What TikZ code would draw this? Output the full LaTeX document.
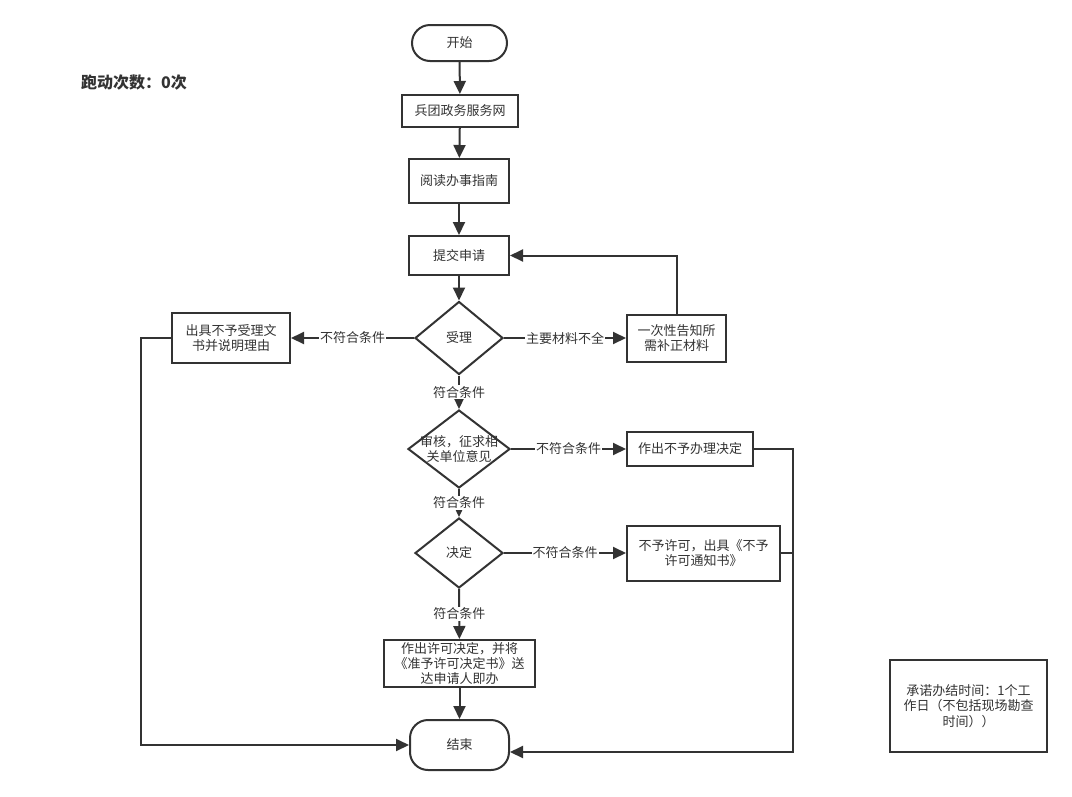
\documentclass[tikz,border=0pt]{standalone}
\usepackage{fontspec}
\setmainfont{Noto Sans CJK SC}
\usetikzlibrary{shapes.geometric,arrows.meta}
\definecolor{ln}{HTML}{333333}
\begin{document}
\begin{tikzpicture}[x=1pt,y=-1pt,
  every node/.style={font=\fontsize{13}{15.5}\selectfont, text=ln},
  box/.style={draw=ln, line width=2pt, inner sep=0pt},
  term/.style={draw=ln, line width=2pt, rounded corners=18pt, inner sep=0pt},
  dia/.style={draw=ln, line width=2pt, diamond, inner sep=0pt},
  arr/.style={draw=ln, line width=2pt, -{Triangle[length=13pt,width=12pt]}},
  line/.style={draw=ln, line width=2pt},
  lab/.style={fill=white, inner sep=1pt}
]
\useasboundingbox[fill=white] (0,0) rectangle (1072,796);

\node[term, minimum width=95pt, minimum height=36pt] (start) at (459.5,43) {开始};
\node[box, minimum width=116pt, minimum height=32pt] (web) at (460,111) {兵团政务服务网};
\node[box, minimum width=100pt, minimum height=44pt] (read) at (459,181) {阅读办事指南};
\node[box, minimum width=100pt, minimum height=39pt] (sub) at (459,255.5) {提交申请};
\node[dia, minimum width=88pt, minimum height=73pt] (acc) at (459,338) {};
\node (acct) at (acc) {受理};
\node[box, minimum width=118pt, minimum height=50pt, align=center] (rej) at (231,338) {出具不予受理文\\书并说明理由};
\node[box, minimum width=99pt, minimum height=47pt, align=center] (sup) at (676.5,338) {一次性告知所\\需补正材料};
\node[dia, minimum width=102pt, minimum height=78pt] (rev) at (459,449) {};
\node[align=center] (revt) at (rev) {审核，征求相\\关单位意见};
\node[box, minimum width=126pt, minimum height=34pt] (nodo) at (690,449) {作出不予办理决定};
\node[dia, minimum width=88pt, minimum height=70pt] (dec) at (459,553) {};
\node (dect) at (dec) {决定};
\node[box, minimum width=153pt, minimum height=55pt, align=center] (deny) at (703.5,553) {不予许可，出具《不予\\许可通知书》};
\node[box, minimum width=151pt, minimum height=47pt, align=center, font=\fontsize{13}{15}\selectfont] (grant) at (459.5,663.5) {作出许可决定，并将\\《准予许可决定书》送\\达申请人即办};
\node[term, minimum width=99pt, minimum height=50pt] (end) at (459.5,745) {结束};
\node[box, minimum width=157pt, minimum height=92pt, align=center] (note) at (968.5,706) {承诺办结时间：1个工\\作日（不包括现场勘查\\时间））};
\node[font=\bfseries\fontsize{16}{18}\selectfont] (runs) at (134,82) {跑动次数：0次};

\draw[arr] (start) -- (web);
\draw[arr] (web) -- (read);
\draw[arr] (read) -- (sub);
\draw[arr] (sub) -- (acc);
\draw[arr] (acc) -- node[lab]{不符合条件} (rej);
\draw[arr] (acc) -- node[lab]{主要材料不全} (sup);
\draw[arr] (sup.north) |- (sub.east);
\draw[arr] (acc) -- node[lab]{符合条件} (rev);
\draw[arr] (rev) -- node[lab]{不符合条件} (nodo);
\draw[arr] (rev) -- node[lab]{符合条件} (dec);
\draw[arr] (dec) -- node[lab]{不符合条件} (deny);
\draw[arr] (dec) -- node[lab]{符合条件} (grant);
\draw[arr] (grant) -- (end);
\draw[arr] (rej.west) -- ++(-30,0) |- (end.west);
\coordinate (rj) at (793,752);
\draw[arr] (nodo.east) -| (rj) -- (end.east |- rj);
\draw[line] (deny.east) -- (deny.east -| rj);
\end{tikzpicture}
\end{document}
